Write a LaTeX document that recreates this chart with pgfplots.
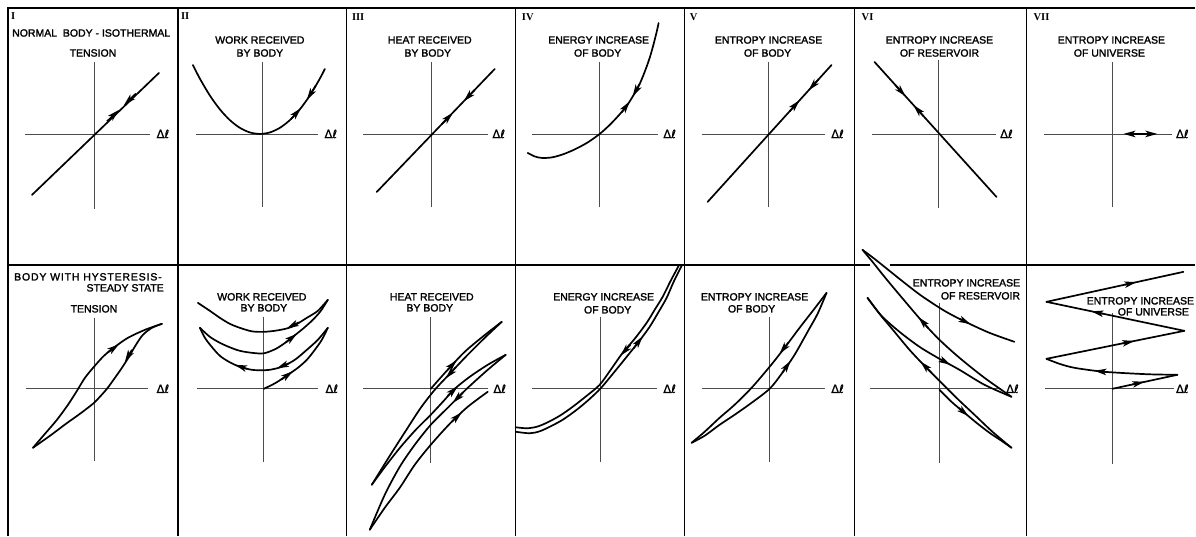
\documentclass[border=0pt]{standalone}
\usepackage{pgfplots}
\pgfplotsset{compat=1.18}
\usetikzlibrary{arrows.meta}
\usepackage{fontspec}
\setmainfont{Liberation Sans}
\newfontfamily\lettering{Liberation Sans}[FakeBold=1.8]
\newfontfamily\numfont{Liberation Serif}
\newfontfamily\symfont{DejaVu Sans}[FakeBold=0.8]

\begin{document}
\begin{tikzpicture}[
  crv/.style={black, line width=1.7pt, line join=round, line cap=round},
  axl/.style={black!70, line width=0.8pt},
  brd/.style={black, line width=1.3pt},
  arr/.style={black, line width=1.7pt, -{Stealth[length=12pt,width=6.5pt,inset=3pt]}},
  lbl/.style={font=\lettering\fontsize{10.5}{12}\selectfont, inner sep=0pt, anchor=center},
  dl/.style={font=\symfont\fontsize{11.5}{12}\selectfont, inner sep=0pt},
  num/.style={font=\numfont\bfseries\fontsize{10.5}{11}\selectfont, inner sep=0pt}
]
\begin{axis}[
  width=1196pt, height=536pt, scale only axis,
  xmin=0, xmax=1196, ymin=0, ymax=536, y dir=reverse,
  axis line style={draw=none}, xtick=\empty, ytick=\empty,
  clip=false
]
% ---------------- frame ----------------
\addplot[brd] coordinates {(8,536) (8,8) (1196,8)};
\addplot[brd] coordinates {(178,8) (178,536)};
\addplot[brd] coordinates {(347,8) (347,536)};
\addplot[brd] coordinates {(516,8) (516,536)};
\addplot[brd] coordinates {(685,8) (685,536)};
\addplot[brd] coordinates {(855,8) (855,536)};
\addplot[brd] coordinates {(1027,8) (1027,536)};
\addplot[brd] coordinates {(8,265) (870,265)};
\addplot[brd] coordinates {(890,265) (1196,265)};

% ---------------- axes, upper row ----------------
\addplot[axl] coordinates {(94,62) (94,209)};
\addplot[axl] coordinates {(25,134) (150,134)};
\addplot[axl] coordinates {(263,62) (263,207)};
\addplot[axl] coordinates {(196,134) (318,134)};
\addplot[axl] coordinates {(432,62) (432,207)};
\addplot[axl] coordinates {(363,134) (488,134)};
\addplot[axl] coordinates {(600,62) (600,207)};
\addplot[axl] coordinates {(532,134) (658,134)};
\addplot[axl] coordinates {(769,62) (769,207)};
\addplot[axl] coordinates {(702,134) (825,134)};
\addplot[axl] coordinates {(939,60) (939,208)};
\addplot[axl] coordinates {(872,134) (997,134)};
\addplot[axl] coordinates {(1113,62) (1113,207)};
\addplot[axl] coordinates {(1045,134) (1173,134)};

% ---------------- axes, lower row ----------------
\addplot[axl] coordinates {(94,318) (94,461)};
\addplot[axl] coordinates {(26,389) (148,389)};
\addplot[axl] coordinates {(264,317) (264,462)};
\addplot[axl] coordinates {(197,389) (318,389)};
\addplot[axl] coordinates {(431,317) (431,463)};
\addplot[axl] coordinates {(363,389) (488,389)};
\addplot[axl] coordinates {(601,317) (601,462)};
\addplot[axl] coordinates {(532,389) (657,389)};
\addplot[axl] coordinates {(770,317) (770,462)};
\addplot[axl] coordinates {(702,389) (825,389)};
\addplot[axl] coordinates {(940,303) (940,463)};
\addplot[axl] coordinates {(870,389) (1002,389)};
\addplot[axl] coordinates {(1113,313) (1113,464)};
\addplot[axl] coordinates {(1046,389) (1175,389)};

% ---------------- upper row: normal body ----------------
% I tension
\addplot[crv] coordinates {(32,195) (159,73)};
\addplot[arr] coordinates {(107,121.5) (119,110)};
\addplot[arr] coordinates {(136,93.6) (124,105.2)};
% II work
\addplot[crv, smooth] coordinates {(193,65) (200,78.7) (210,95.6) (220,109.4) (230,120.2) (240,127.9) (250,132.5) (260,134) (270,132.5) (280,127.9) (290,120.2) (300,109.4) (310,95.6) (320,78.7) (325,69)};
\addplot[arr] coordinates {(291,119.3) (301,108.2)};
\addplot[arr] coordinates {(316,85.5) (307,100)};
% III heat
\addplot[crv] coordinates {(377,192) (495,69)};
\addplot[arr] coordinates {(442,124.3) (453,112.8)};
\addplot[arr] coordinates {(475,89.9) (464,101.4)};
% IV energy
\addplot[crv, smooth] coordinates {(528,153) (535,156.5) (542,158) (552,157.5) (563,154.5) (575,149.5) (588,142.5) (600,134) (610,125) (619,115.5) (627,106) (634,95) (640,84) (645,72) (650,58) (654,44) (657,32) (659,23)};
\addplot[arr] coordinates {(622,112.5) (630,101.5)};
\addplot[arr] coordinates {(640,84) (633,96.5)};
% V entropy of body
\addplot[crv] coordinates {(708,202) (832,65)};
\addplot[arr] coordinates {(790,111.4) (800,100.3)};
\addplot[arr] coordinates {(819,79.4) (809,90.4)};
% VI entropy of reservoir
\addplot[crv] coordinates {(875,62) (997,197)};
\addplot[arr] coordinates {(896,85.3) (906,96.3)};
\addplot[arr] coordinates {(924,116.2) (914,105.2)};
% VII entropy of universe
\addplot[crv] coordinates {(1128,134) (1154,134)};
\addplot[arr] coordinates {(1141,134) (1124,134)};
\addplot[arr] coordinates {(1141,134) (1158,134)};

% ---------------- lower row: body with hysteresis ----------------
% I tension loop
\addplot[crv, smooth] coordinates {(33,448) (45,434) (57,420) (68,405) (77,391) (85,378) (94,367) (104,356) (115,347) (128,338) (145,330) (162,324)};
\addplot[crv, smooth] coordinates {(162,324) (152,328) (143,335) (136,345) (129,357) (122,368) (115,378) (107,389) (99,398) (93,404) (80,414) (66,424) (50,436) (33,448)};
\addplot[arr] coordinates {(108,352.5) (119,344.5)};
\addplot[arr] coordinates {(132,350) (125,362)};
% II work
\addplot[crv, smooth] coordinates {(264,389) (276,383) (288,375) (298,368) (307,360) (315,350) (322,340) (328,328)};
\addplot[crv, smooth] coordinates {(328,328) (318,340) (307,350) (295,360) (282,367) (270,370) (264,370.5) (252,370) (240,367) (230,362.5) (220,356) (211,346) (205,338) (200,328)};
\addplot[crv, smooth] coordinates {(200,328) (210,337) (220,343) (230,347.5) (240,351) (252,353) (264,353.5) (276,349) (286,342.5) (293,337) (303,329) (313,320) (321,311) (328,300)};
\addplot[crv, smooth] coordinates {(328,300) (318,311) (307,318) (292,327) (278,330.5) (264,332) (252,331.5) (240,328) (230,324) (220,318) (210,311) (198,303)};
\addplot[arr] coordinates {(282,379.5) (293,371.5)};
\addplot[arr] coordinates {(289,363.5) (277,368.5)};
\addplot[arr] coordinates {(247,369) (235,365)};
\addplot[arr] coordinates {(286,342.5) (297,334)};
\addplot[arr] coordinates {(299,322.5) (287,328.5)};
% III heat
\addplot[crv, smooth] coordinates {(431,389) (447,371) (465,352) (484,336) (502,322)};
\addplot[crv, smooth] coordinates {(502,322) (484,339) (466,357) (449,375) (435,390) (421,408) (406,431) (390,456) (372,485)};
\addplot[crv, smooth] coordinates {(372,485) (386,466) (401,447) (416,430) (431,415) (444,401) (455,389) (470,377) (488,365) (506,355)};
\addplot[crv, smooth] coordinates {(506,355) (488,370) (467,389) (449,407) (431,425) (415,445) (400,467) (385,495) (370,530)};
\addplot[crv, smooth] coordinates {(370,530) (385,508) (400,488) (415,465) (431,445) (450,424) (468,407) (488,392)};
\addplot[arr] coordinates {(448,370) (457,360.4)};
\addplot[arr] coordinates {(456,367.5) (446,378.5)};
\addplot[arr] coordinates {(448,396) (458,386.5)};
\addplot[arr] coordinates {(463,393) (453,403)};
\addplot[arr] coordinates {(452,422) (462,412.7)};
% IV energy
\addplot[crv, smooth] coordinates {(679,266) (671,281) (663,297) (655,310) (647,323) (635,339) (623,353) (611,370) (600,385) (587,396) (573,407) (560,416) (547,423) (537,427) (527,428.5) (516,427.5)};
\addplot[crv, smooth] coordinates {(682,266) (674,282) (667,298) (659,312) (650,327) (639,342) (627,357) (614,373) (601,388.5) (589,400) (577,410) (563,420) (550,427) (540,431.5) (530,433.5) (516,432)};
\addplot[arr] coordinates {(631,344.5) (621,355.8)};
\addplot[arr] coordinates {(634,348.5) (643,336.6)};
% V entropy of body
\addplot[crv, smooth] coordinates {(692,443) (705,432) (720,418) (735,405) (752,388) (770,367) (785,348) (800,328) (814,310) (827,293)};
\addplot[crv, smooth] coordinates {(692,443) (705,436) (720,425) (735,415) (752,403) (770,389) (782,374) (795,355) (808,332) (818,314) (827,293)};
\addplot[arr] coordinates {(789,342.5) (780,354)};
\addplot[arr] coordinates {(783,372.5) (791,361)};
% VI entropy of reservoir
\addplot[crv, smooth] coordinates {(940,390) (952,402) (965,413) (977,423) (990,433) (1002,441) (1012,448)};
\addplot[crv, smooth] coordinates {(1012,448) (993,432) (975,415) (958,399) (940,381) (925,366) (910,350) (895,332) (880,314) (868,298)};
\addplot[crv, smooth] coordinates {(868,298) (882,316) (900,332) (920,347) (940,359) (960,370) (985,385) (1012,397)};
\addplot[crv, smooth] coordinates {(1012,397) (985,378) (960,358) (940,340) (923,322) (900,295) (885,277) (873,262) (863,250)};
\addplot[crv, smooth] coordinates {(863,250) (875,259) (890,271) (905,283) (922,296) (945,311) (966,322) (990,333) (1015,342)};
\addplot[arr] coordinates {(959,408) (969,416.3)};
\addplot[arr] coordinates {(932,373) (921,361.7)};
\addplot[arr] coordinates {(941,359.5) (951,365)};
\addplot[arr] coordinates {(929,328.5) (919,317.3)};
\addplot[arr] coordinates {(960,318.9) (971,324.3)};
% VII entropy of universe
\addplot[crv] coordinates {(1113,389) (1178,375)};
\addplot[crv, smooth] coordinates {(1178,375) (1150,374.5) (1120,373) (1100,371.5) (1075,368) (1060,364) (1047,359)};
\addplot[crv] coordinates {(1047,359) (1185,331)};
\addplot[crv] coordinates {(1185,331) (1047,302)};
\addplot[crv] coordinates {(1047,302) (1184,272)};
\addplot[arr] coordinates {(1133,384.7) (1145,382)};
\addplot[arr] coordinates {(1107,372.2) (1095,371)};
\addplot[arr] coordinates {(1123,343.6) (1135,341.2)};
\addplot[arr] coordinates {(1104,314) (1092,311.5)};
\addplot[arr] coordinates {(1125,284.9) (1137,282.3)};

% ---------------- numerals ----------------
\node[num, anchor=west] at (axis cs:11,16) {I};
\node[num, anchor=west] at (axis cs:181,16) {II};
\node[num, anchor=west] at (axis cs:352,17) {III};
\node[num, anchor=west] at (axis cs:522,17) {IV};
\node[num, anchor=west] at (axis cs:690,17) {V};
\node[num, anchor=west] at (axis cs:862,17) {VI};
\node[num, anchor=west] at (axis cs:1034,17) {VII};

% ---------------- titles, upper row ----------------
\node[lbl, anchor=west] at (axis cs:12,33) {NORMAL\ \ BODY - ISOTHERMAL};
\node[lbl] at (axis cs:93,53) {TENSION};
\node[lbl] at (axis cs:260,40) {WORK RECEIVED};
\node[lbl] at (axis cs:260,53) {BY BODY};
\node[lbl] at (axis cs:430,40) {HEAT RECEIVED};
\node[lbl] at (axis cs:428,53) {BY BODY};
\node[lbl] at (axis cs:599,40) {ENERGY INCREASE};
\node[lbl] at (axis cs:598,53) {OF BODY};
\node[lbl] at (axis cs:769,40) {ENTROPY INCREASE};
\node[lbl] at (axis cs:768,53) {OF BODY};
\node[lbl] at (axis cs:940,40) {ENTROPY INCREASE};
\node[lbl] at (axis cs:940,53) {OF RESERVOIR};
\node[lbl] at (axis cs:1112,40) {ENTROPY INCREASE};
\node[lbl] at (axis cs:1110,53) {OF UNIVERSE};

% ---------------- titles, lower row ----------------
\node[lbl, anchor=west] at (axis cs:14,277) {\addfontfeature{LetterSpace=8}BODY WITH HYSTERESIS-};
\node[lbl, anchor=east] at (axis cs:164,288) {STEADY STATE};
\node[lbl] at (axis cs:94,309) {TENSION};
\node[lbl] at (axis cs:262,297) {WORK RECEIVED};
\node[lbl] at (axis cs:264,308) {BY BODY};
\node[lbl] at (axis cs:432,297) {HEAT RECEIVED};
\node[lbl] at (axis cs:430,308) {BY BODY};
\node[lbl] at (axis cs:604,297) {ENERGY INCREASE};
\node[lbl] at (axis cs:608,310) {OF BODY};
\node[lbl] at (axis cs:755,297) {ENTROPY INCREASE};
\node[lbl] at (axis cs:752,309) {OF BODY};
\node[lbl] at (axis cs:967,283) {ENTROPY INCREASE};
\node[lbl] at (axis cs:981,296) {OF RESERVOIR};
\node[lbl] at (axis cs:1141,301) {ENTROPY INCREASE};
\node[lbl] at (axis cs:1154,312) {OF UNIVERSE};

% ---------------- strain labels ----------------
\node[dl] at (axis cs:163,134) {Δℓ};
\node[dl] at (axis cs:331,134) {Δℓ};
\node[dl] at (axis cs:499,134) {Δℓ};
\node[dl] at (axis cs:670,134) {Δℓ};
\node[dl] at (axis cs:838,134) {Δℓ};
\node[dl] at (axis cs:1007,134) {Δℓ};
\node[dl] at (axis cs:1183,134) {Δℓ};
\node[dl] at (axis cs:163,389) {Δℓ};
\node[dl] at (axis cs:332,389) {Δℓ};
\node[dl] at (axis cs:500,389) {Δℓ};
\node[dl] at (axis cs:670,389) {Δℓ};
\node[dl] at (axis cs:838,389) {Δℓ};
\node[dl] at (axis cs:1013,389) {Δℓ};
\node[dl] at (axis cs:1183,389) {Δℓ};
\end{axis}
\end{tikzpicture}
\end{document}
